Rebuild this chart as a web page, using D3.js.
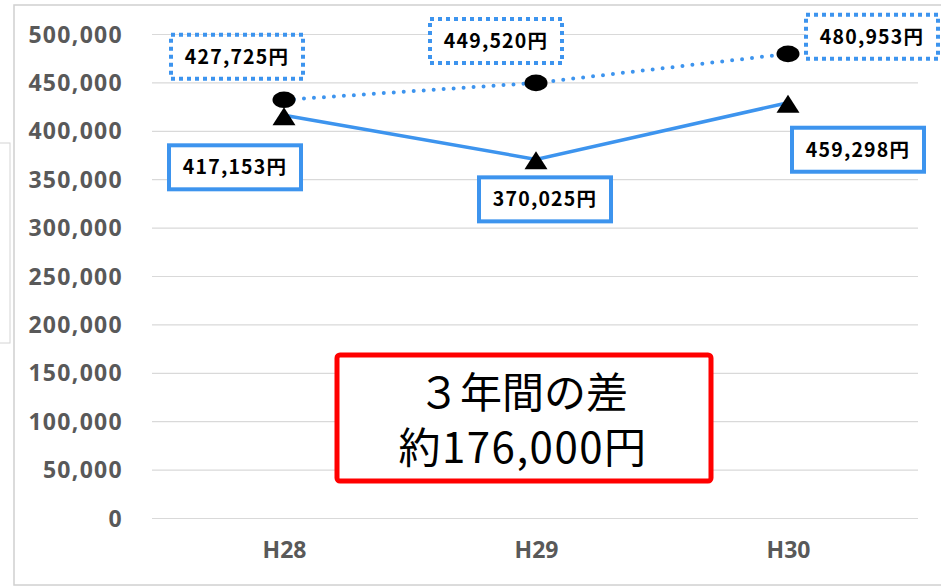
<!DOCTYPE html>
<html>
<head>
<meta charset="utf-8">
<script src="https://cdn.jsdelivr.net/npm/d3@7"></script>
<style>
  body { margin: 0; background: #fff; }
  svg { display: block; }
</style>
</head>
<body>
<div class="chart"></div>
<script>
// data
var years = ["H28", "H29", "H30"];
var circleVals = [432000, 449500, 479500];     // dotted series (●)
var triangleVals = [416000, 370500, 429000];   // solid series (▲)
var circleLabels = ["427,725円", "449,520円", "480,953円"];
var triangleLabels = ["417,153円", "370,025円", "459,298円"];
var yTicks = [0, 50000, 100000, 150000, 200000, 250000, 300000, 350000, 400000, 450000, 500000];
var noteLines = ["３年間の差", "約176,000円"];

var svgWidth = 941;
var svgHeight = 587;
var plot = {left: 152, right: 918, top: 34, bottom: 518};
var blue = "#3d94ee";

var svg = d3.select(".chart").append("svg")
  .attr("width", svgWidth)
  .attr("height", svgHeight);

// stray frame of a box behind, on the far left
svg.append("rect")
  .attr("x", -20).attr("y", 143).attr("width", 30).attr("height", 200)
  .attr("fill", "none").attr("stroke", "#d4d4d4").attr("stroke-width", 1);

// chart frame
svg.append("rect")
  .attr("x", 14).attr("y", 5).attr("width", 940).attr("height", 580)
  .attr("fill", "#fff").attr("stroke", "#d0d0d0").attr("stroke-width", 1.5);

var x = d3.scalePoint().domain(years).range([plot.left + 6, plot.right - 4]).padding(0.5);
var y = d3.scaleLinear().domain([0, 500000]).range([plot.bottom, plot.top]);

// grid lines
var leftAxis = d3.axisLeft(y)
  .tickValues(yTicks)
  .tickSize(-(plot.right - plot.left))
  .tickPadding(29)
  .tickFormat(d3.format(","));

var gy = svg.append("g")
  .attr("transform", "translate(" + plot.left + ",0)")
  .call(leftAxis);
gy.select(".domain").remove();
gy.selectAll(".tick line").attr("stroke", "#d9d9d9").attr("stroke-width", 1.2);
gy.selectAll(".tick text")
  .attr("fill", "#595959")
  .style("font-family", "'Open Sans', sans-serif")
  .style("font-weight", "bold")
  .style("font-size", "23px")
  .style("letter-spacing", "1.3px")
  .attr("dy", "0.35em");

var bottomAxis = d3.axisBottom(x).tickSize(0).tickPadding(24);
var gx = svg.append("g")
  .attr("transform", "translate(0," + plot.bottom + ")")
  .call(bottomAxis);
gx.select(".domain").remove();
gx.selectAll(".tick text")
  .attr("fill", "#595959")
  .style("font-family", "'Open Sans', sans-serif")
  .style("font-weight", "bold")
  .style("font-size", "23px")
  .attr("dy", "0.71em");

// lines
var line = d3.line()
  .x(function(d, i) { return x(years[i]); })
  .y(function(d) { return y(d); });

svg.append("path")
  .datum(circleVals)
  .attr("d", line)
  .attr("fill", "none")
  .attr("stroke", blue)
  .attr("stroke-width", 4)
  .attr("stroke-linecap", "round")
  .attr("stroke-dasharray", "0,10");

svg.append("path")
  .datum(triangleVals)
  .attr("d", line)
  .attr("fill", "none")
  .attr("stroke", blue)
  .attr("stroke-width", 3.5);

// markers
svg.selectAll(".dot")
  .data(circleVals)
  .enter().append("ellipse")
  .attr("cx", function(d, i) { return x(years[i]); })
  .attr("cy", function(d) { return y(d); })
  .attr("rx", 11.5)
  .attr("ry", 8.3)
  .attr("fill", "#000");

svg.selectAll(".tri")
  .data(triangleVals)
  .enter().append("path")
  .attr("d", "M0,-10 L11.5,8 L-11.5,8 Z")
  .attr("transform", function(d, i) { return "translate(" + x(years[i]) + "," + (y(d) + 2) + ")"; })
  .attr("fill", "#000");

// data label boxes (offset from their point)
var circleOffsets = [[-47, -43], [-40, -42], [84, -17]];
var triangleOffsets = [[-49, 52], [9, 40], [70, 47]];

function addLabels(vals, labels, offsets, dotted) {
  var g = svg.selectAll(dotted ? ".clab" : ".tlab")
    .data(vals)
    .enter().append("g")
    .attr("transform", function(d, i) {
      return "translate(" + (x(years[i]) + offsets[i][0]) + "," + (y(d) + offsets[i][1]) + ")";
    });
  g.append("rect")
    .attr("x", -66).attr("y", -22).attr("width", 132).attr("height", 44)
    .attr("fill", "#fff")
    .attr("stroke", blue)
    .attr("stroke-width", 4)
    .attr("stroke-dasharray", dotted ? "4,4" : null);
  g.append("text")
    .attr("text-anchor", "middle")
    .attr("dy", "0.36em")
    .style("font-family", "'Noto Sans CJK JP', sans-serif")
    .style("font-weight", "bold")
    .style("font-size", "19.5px")
    .style("letter-spacing", "1.2px")
    .attr("fill", "#000")
    .text(function(d, i) { return labels[i]; });
}
addLabels(circleVals, circleLabels, circleOffsets, true);
addLabels(triangleVals, triangleLabels, triangleOffsets, false);

// note box
var note = svg.append("g");
note.append("rect")
  .attr("x", 337).attr("y", 355).attr("width", 374).attr("height", 126)
  .attr("rx", 3)
  .attr("fill", "#fff")
  .attr("stroke", "#ff0000")
  .attr("stroke-width", 5);
note.selectAll("text")
  .data(noteLines)
  .enter().append("text")
  .attr("x", 523)
  .attr("y", function(d, i) { return 408 + i * 55; })
  .attr("text-anchor", "middle")
  .style("font-family", "'Noto Sans CJK JP', sans-serif")
  .style("font-size", "42px")
  .style("letter-spacing", function(d, i) { return i ? "1.5px" : "0px"; })
  .attr("fill", "#000")
  .text(function(d) { return d; });
</script>
</body>
</html>
